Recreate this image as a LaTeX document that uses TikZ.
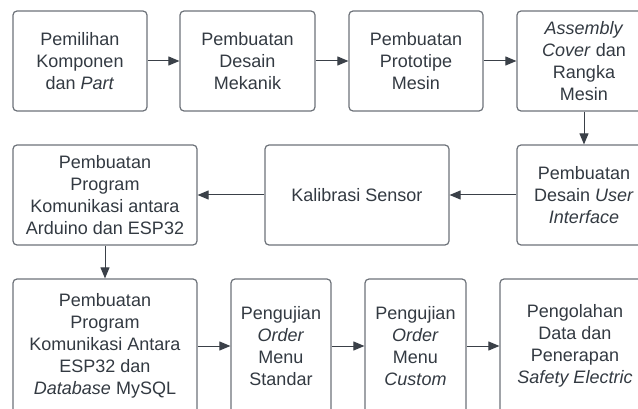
\documentclass[tikz,border=0pt]{standalone}
\usepackage{fontspec}
\setmainfont{Liberation Sans}
\usetikzlibrary{arrows.meta}
\definecolor{boxline}{HTML}{6E737A}
\definecolor{txt}{HTML}{333A42}
\definecolor{arr}{HTML}{3A4048}
\begin{document}
\begin{tikzpicture}[x=1pt,y=-1pt,
  box/.style={draw=boxline, line width=1.2pt, rounded corners=4pt, align=center,
    inner sep=0pt, text=txt, font=\fontsize{18}{22}\selectfont},
  link/.style={draw=arr, line width=1pt, -{Triangle[length=11pt,width=9pt]}}]
\useasboundingbox (0,0) rectangle (638,409);
\clip (0,0) rectangle (638,409);
\fill[white] (0,0) rectangle (638,409);
% row 1
\node[box, minimum width=134pt, minimum height=100pt] (n1) at (80,61) {Pemilihan\\Komponen\\dan \textit{Part}};
\node[box, minimum width=135pt, minimum height=100pt] (n2) at (247.5,61) {Pembuatan\\Desain\\Mekanik};
\node[box, minimum width=134pt, minimum height=100pt] (n3) at (416,61) {Pembuatan\\Prototipe\\Mesin};
\node[box, minimum width=134pt, minimum height=100pt] (n4) at (584,61) {\textit{Assembly}\\\textit{Cover} dan\\Rangka\\Mesin};
% row 2
\node[box, minimum width=134pt, minimum height=100pt] (n5) at (584,195) {Pembuatan\\Desain \textit{User}\\\textit{Interface}};
\node[box, minimum width=184pt, minimum height=100pt] (n6) at (357,195) {Kalibrasi Sensor};
\node[box, minimum width=184pt, minimum height=100pt] (n7) at (105,195) {Pembuatan\\Program\\Komunikasi antara\\Arduino dan ESP32};
% row 3
\node[box, minimum width=184pt, minimum height=134pt] (n8) at (105,346) {Pembuatan\\Program\\Komunikasi Antara\\ESP32 dan\\\textit{Database} MySQL};
\node[box, minimum width=100pt, minimum height=134pt] (n9) at (281,346) {Pengujian\\\textit{Order}\\Menu\\Standar};
\node[box, minimum width=101pt, minimum height=134pt] (n10) at (415.5,346) {Pengujian\\\textit{Order}\\Menu\\\textit{Custom}};
\node[box, minimum width=150pt, minimum height=134pt] (n11) at (575,346) {Pengolahan\\Data dan\\Penerapan\\\textit{Safety Electric}};
% connectors
\draw[link] (n1) -- (n2);
\draw[link] (n2) -- (n3);
\draw[link] (n3) -- (n4);
\draw[link] (n4) -- (n5);
\draw[link] (n5) -- (n6);
\draw[link] (n6) -- (n7);
\draw[link] (n7) -- (n8);
\draw[link] (n8) -- (n9);
\draw[link] (n9) -- (n10);
\draw[link] (n10) -- (n11);
\end{tikzpicture}
\end{document}
